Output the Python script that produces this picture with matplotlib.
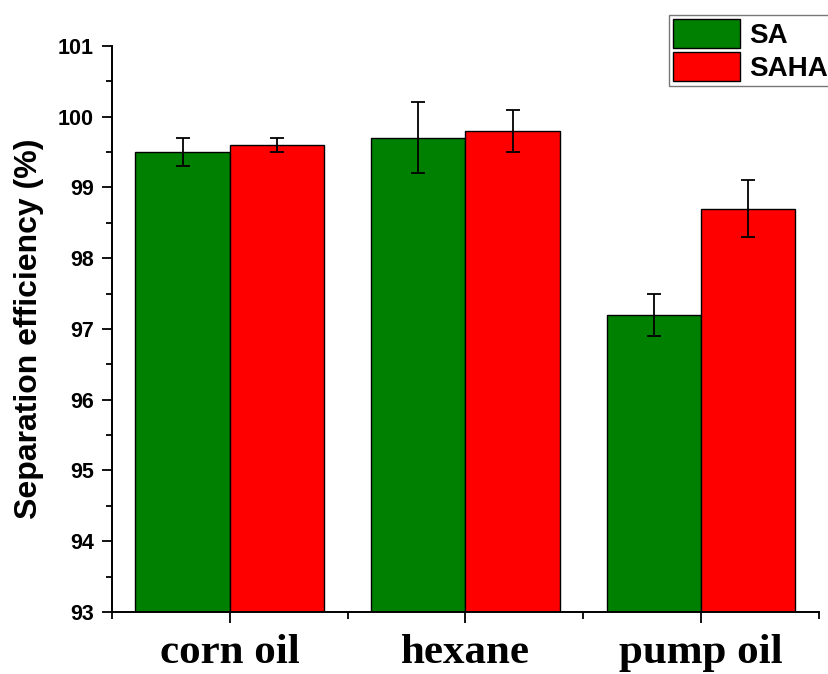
import numpy as np
import matplotlib.pyplot as plt
from matplotlib.ticker import MultipleLocator, FixedLocator

categories = ['corn oil', 'hexane', 'pump oil']
sa_vals = [99.5, 99.7, 97.2]
sa_err = [0.2, 0.5, 0.3]
saha_vals = [99.6, 99.8, 98.7]
saha_err = [0.1, 0.3, 0.4]

fig = plt.figure(figsize=(8.29, 6.74), dpi=100)
ax = fig.add_axes([0.135, 0.092, 0.853, 0.840])

x = np.arange(len(categories))
w = 0.4
ekw = dict(elinewidth=1.3, capthick=1.3, ecolor='black')
ax.bar(x - w / 2, sa_vals, w, color='#008000', edgecolor='black',
       linewidth=1, yerr=sa_err, capsize=5, error_kw=ekw, label='SA')
ax.bar(x + w / 2, saha_vals, w, color='#ff0000', edgecolor='black',
       linewidth=1, yerr=saha_err, capsize=5, error_kw=ekw, label='SAHA')

ax.set_ylim(93, 101)
ax.set_xlim(-0.5, 2.5)
ax.set_xticks(x)
ax.set_xticklabels(categories, fontfamily='Liberation Serif', fontweight='bold', fontsize=31)
ax.xaxis.set_minor_locator(FixedLocator([-0.5, 0.5, 1.5, 2.5]))
ax.yaxis.set_major_locator(MultipleLocator(1))
ax.yaxis.set_minor_locator(MultipleLocator(0.5))
for lab in ax.get_yticklabels():
    lab.set_fontfamily('Liberation Sans')
    lab.set_fontweight('bold')
    lab.set_fontsize(15.5)

ax.tick_params(axis='y', which='major', length=7, width=1.3, direction='out', pad=6)
ax.tick_params(axis='y', which='minor', length=4, width=1.3, direction='out')
ax.tick_params(axis='x', which='major', length=8, width=1.3, direction='out', pad=8)
ax.tick_params(axis='x', which='minor', length=5, width=1.3, direction='out')

for s in ['top', 'right']:
    ax.spines[s].set_visible(False)
for s in ['left', 'bottom']:
    ax.spines[s].set_linewidth(1.4)

ax.set_ylabel('Separation efficiency (%)', fontfamily='Liberation Sans',
              fontweight='bold', fontsize=23, labelpad=10)

leg = ax.legend(loc='upper left', bbox_to_anchor=(669 / 829, 1 - 15 / 674),
                bbox_transform=fig.transFigure, frameon=True, fancybox=False,
                prop={'family': 'Liberation Sans', 'weight': 'bold', 'size': 20},
                handlelength=2.4, handleheight=1.2, labelspacing=0.12,
                borderpad=0.15, handletextpad=0.35, borderaxespad=0)
leg.get_frame().set_edgecolor('#555555')
leg.get_frame().set_linewidth(1)

fig.savefig('out.png', dpi=100)
